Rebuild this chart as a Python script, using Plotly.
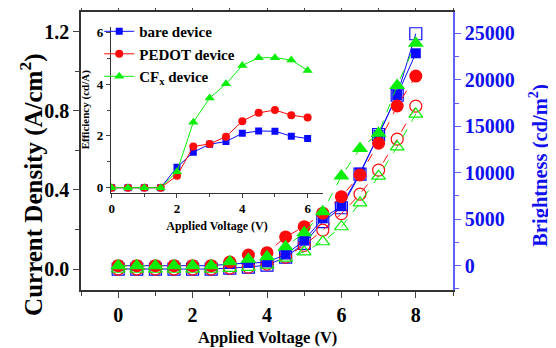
import plotly.graph_objects as go

# ---- data ----
voltage = [0, 0.5, 1, 1.5, 2, 2.5, 3, 3.5, 4, 4.5, 5, 5.5, 6, 6.5, 7, 7.5, 8]

# Brightness (cd/m2), right axis, filled markers
bare_L = [0, 0, 0, 0, 0, 0, 180, 290, 370, 1200, 2700, 5100, 6400, 10000, 14060, 18360, 22850]
pedot_L = [0, 0, 0, 0, 0, 0, 400, 1150, 1400, 3100, 4200, 5650, 7420, 9760, 13170, 17180, 20400]
cfx_L = [0, 0, 0, 0, 0, 0, 430, 690, 970, 2040, 3550, 5810, 9650, 12600, 14240, 19380, 23920]

# Current density (A/cm2), left axis, open markers
bare_J = [0, 0, 0, 0, 0, 0, 0.005, 0.01, 0.02, 0.06, 0.13, 0.24, 0.31, 0.48, 0.68, 0.88, 1.19]
pedot_J = [0, 0, 0, 0, 0, 0, 0.005, 0.01, 0.025, 0.06, 0.12, 0.197, 0.28, 0.379, 0.50, 0.657, 0.824]
cfx_J = [0, 0, 0, 0, 0, 0, 0.003, 0.008, 0.02, 0.055, 0.087, 0.138, 0.214, 0.335, 0.47, 0.618, 0.784]

# Inset: efficiency (cd/A)
eff_voltage = [0, 0.5, 1, 1.5, 2, 2.5, 3, 3.5, 4, 4.5, 5, 5.5, 6]
bare_eff = [0, 0, 0, 0, 0.79, 1.37, 1.68, 1.78, 2.1, 2.19, 2.18, 1.99, 1.9]
pedot_eff = [0, 0, 0, 0, 0.46, 1.59, 1.69, 1.97, 2.57, 2.89, 3.0, 2.8, 2.71]
cfx_eff = [0, 0, 0, 0, 0.62, 2.53, 3.46, 4.01, 4.72, 5.02, 5.02, 4.93, 4.53]

names = ["bare device", "PEDOT device", "CF<sub>x</sub> device"]
x_title = "Applied Voltage (V)"
y_title = "Current Density (A/cm<sup>2</sup>)"
y2_title = "Brightness (cd/m<sup>2</sup>)"

BLUE = "#0a0aff"
RED = "#ff0a0a"
GREEN = "#0aee0a"
AXBLUE = "#1010f0"
FONT = "Liberation Serif"

fig = go.Figure()

# open markers: current density (left axis)
for y, col, sym, dash in [(bare_J, BLUE, "square-open", "solid"),
                          (pedot_J, RED, "circle-open", "dash"),
                          (cfx_J, GREEN, "triangle-up-open", "dash")]:
    fig.add_trace(go.Scatter(x=voltage, y=y, mode="lines+markers", yaxis="y",
                             line=dict(color=col, width=1, dash=dash),
                             marker=dict(symbol=sym, size=12, color=col, line=dict(width=1.2, color=col)),
                             showlegend=False))

# filled markers: brightness (right axis)
for y, col, sym, dash, sz in [(bare_L, BLUE, "square", "solid", 10),
                              (pedot_L, RED, "circle", "dash", 13),
                              (cfx_L, GREEN, "triangle-up", "dash", 14)]:
    fig.add_trace(go.Scatter(x=voltage, y=y, mode="lines+markers", yaxis="y2",
                             line=dict(color=col, width=1, dash=dash),
                             marker=dict(symbol=sym, size=sz, color=col),
                             showlegend=False))

# inset
for y, col, sym, nm, sz in [(bare_eff, BLUE, "square", names[0], 7),
                            (pedot_eff, RED, "circle", names[1], 8),
                            (cfx_eff, GREEN, "triangle-up", names[2], 9)]:
    fig.add_trace(go.Scatter(x=eff_voltage, y=y, mode="lines+markers", xaxis="x3", yaxis="y3",
                             line=dict(color=col, width=1),
                             marker=dict(symbol=sym, size=sz, color=col),
                             name=nm, showlegend=True))

bold = dict(family=FONT, weight="bold")

fig.update_layout(
    width=548, height=340,
    margin=dict(l=73, r=103, t=4, b=58),
    paper_bgcolor="white", plot_bgcolor="white",
    font=dict(family=FONT, color="black"),
    xaxis=dict(range=[-1, 9], tick0=0, dtick=2, ticks="outside", ticklen=6, tickwidth=1.2, automargin=False,
               showline=True, linecolor="#333", linewidth=1.5, mirror="ticks", showgrid=False, zeroline=False,
               minor=dict(dtick=1, ticks="outside", ticklen=4, tickwidth=1.2, showgrid=False),
               tickfont=dict(size=20, **bold)),
    yaxis=dict(range=[-0.106, 1.3], tick0=0, dtick=0.4, tickformat=".1f", ticks="outside", ticklen=6,
               tickwidth=1.2, showline=True, linecolor="#333", linewidth=1.5, showgrid=False, zeroline=False,
               automargin=False,
               minor=dict(dtick=0.2, ticks="outside", ticklen=4, tickwidth=1.2, showgrid=False),
               tickfont=dict(size=20, **bold)),
    yaxis2=dict(range=[-2614, 27291], tick0=0, dtick=5000, tickformat="d", overlaying="y", side="right",
                ticks="outside", ticklen=6, tickwidth=1.2, tickcolor="#6060ff", automargin=False,
                showline=True, linecolor="#6060ff", linewidth=1.5, showgrid=False, zeroline=False,
                minor=dict(dtick=2500, ticks="outside", ticklen=4, tickwidth=1.2, tickcolor="#6060ff", showgrid=False),
                tickfont=dict(size=20, color=AXBLUE, **bold)),
    xaxis3=dict(domain=[0.0806, 0.6505], anchor="y3", range=[-0.02, 6.47], tick0=0, dtick=2,
                ticks="outside", ticklen=4, tickwidth=1, showline=True, linecolor="#333", linewidth=1.2,
                showgrid=False, zeroline=False, automargin=False,
                minor=dict(dtick=1, ticks="outside", ticklen=3, tickwidth=1, showgrid=False),
                tickfont=dict(size=13, **bold),
                title=dict(text=x_title, font=dict(size=12, **bold), standoff=6)),
    yaxis3=dict(domain=[0.35, 0.947], anchor="x3", range=[-0.193, 6.216], tick0=0, dtick=2,
                ticks="outside", ticklen=4, tickwidth=1, showline=True, linecolor="#333", linewidth=1.2,
                showgrid=False, zeroline=False, automargin=False,
                minor=dict(dtick=1, ticks="outside", ticklen=3, tickwidth=1, showgrid=False),
                tickfont=dict(size=13, **bold),
                title=dict(text="Efficiency (cd/A)", font=dict(size=11, **bold), standoff=4)),
    legend=dict(x=0.049, y=0.989, xanchor="left", yanchor="top", bgcolor="rgba(0,0,0,0)",
                font=dict(size=15, **bold), tracegroupgap=0, itemwidth=30),
    annotations=[
        dict(text=x_title, xref="paper", yref="paper", x=0.5, y=-0.172, xanchor="center", yanchor="middle",
             showarrow=False, font=dict(size=16.5, **bold)),
        dict(text=y_title, xref="paper", yref="paper", x=-0.1317, y=0.378, xanchor="center", yanchor="middle",
             textangle=-90, showarrow=False, font=dict(size=25, **bold)),
        dict(text=y2_title, xref="paper", yref="paper", x=1.231, y=0.45, xanchor="center", yanchor="middle",
             textangle=-90, showarrow=False, font=dict(size=20.5, color=AXBLUE, **bold)),
    ],
)

fig.write_html("out.html")
